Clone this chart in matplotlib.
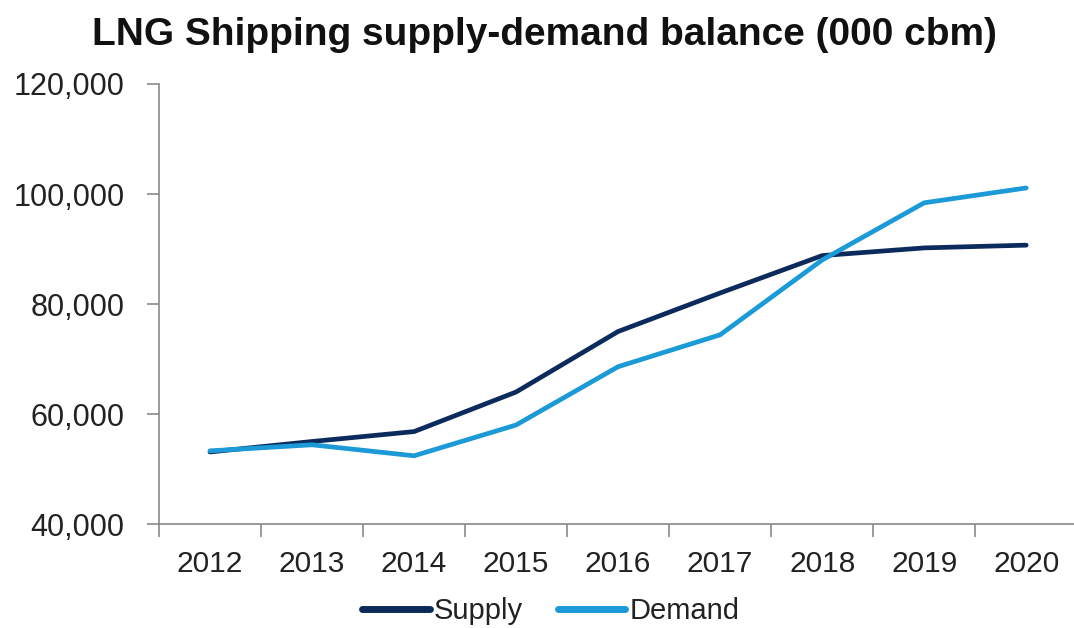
import matplotlib
matplotlib.use("Agg")
import matplotlib.pyplot as plt
from matplotlib.ticker import FuncFormatter, FixedLocator

plt.rcParams["font.family"] = ["Liberation Sans", "DejaVu Sans"]

years = ["2012", "2013", "2014", "2015", "2016", "2017", "2018", "2019", "2020"]
supply = [53100, 55000, 56800, 64000, 75000, 82000, 88800, 90200, 90700]
demand = [53300, 54400, 52400, 58000, 68600, 74400, 88000, 98400, 101100]

supply_color = "#0c2b5c"
demand_color = "#1b9ad7"
axis_color = "#8a8a8a"
text_color = "#222222"

fig = plt.figure(figsize=(10.74, 6.28), dpi=100)
ax = fig.add_axes([159 / 1074, 1 - 524 / 628, 1 - 159 / 1074 + 0.003, (524 - 84) / 628])

x = list(range(len(years)))
ax.plot(x, supply, color=supply_color, lw=3.4, solid_capstyle="round",
        solid_joinstyle="round", label="Supply", zorder=3)
ax.plot(x, demand, color=demand_color, lw=3.4, solid_capstyle="round",
        solid_joinstyle="round", label="Demand", zorder=4)

ax.set_xlim(-0.5, len(years) - 0.5)
ax.set_ylim(40000, 120000)
ax.set_yticks(range(40000, 120001, 20000))
ax.yaxis.set_major_formatter(FuncFormatter(lambda v, p: f"{int(v):,}"))

# category labels sit between boundary ticks
ax.xaxis.set_major_locator(FixedLocator([i - 0.5 for i in range(len(years) + 1)]))
ax.set_xticklabels([])
ax.set_xticks(x, minor=True)
ax.set_xticklabels(years, minor=True)
ax.tick_params(axis="x", which="minor", length=0, pad=19, labelsize=21.5, labelcolor=text_color)
ax.tick_params(axis="x", which="major", length=9, width=1.2, color=axis_color, direction="out")
ax.tick_params(axis="y", length=9, width=1.2, color=axis_color, direction="out",
               labelsize=22, labelcolor=text_color, pad=16)

for s in ["top", "right"]:
    ax.spines[s].set_visible(False)
for s in ["left", "bottom"]:
    ax.spines[s].set_color(axis_color)
    ax.spines[s].set_linewidth(1.2)

fig.text(0.507, 0.944, "LNG Shipping supply-demand balance (000 cbm)", ha="center",
         va="center", fontsize=28, fontweight="bold", color="#111111")

leg = fig.legend(loc="center", bbox_to_anchor=(0.513, 0.027), ncol=2, frameon=False,
                 fontsize=21, handlelength=2.3, handletextpad=0.15, columnspacing=1.2)
for t in leg.get_texts():
    t.set_color(text_color)
for h in leg.get_lines():
    h.set_linewidth(5)

fig.savefig("out.png", dpi=100, facecolor="white")
